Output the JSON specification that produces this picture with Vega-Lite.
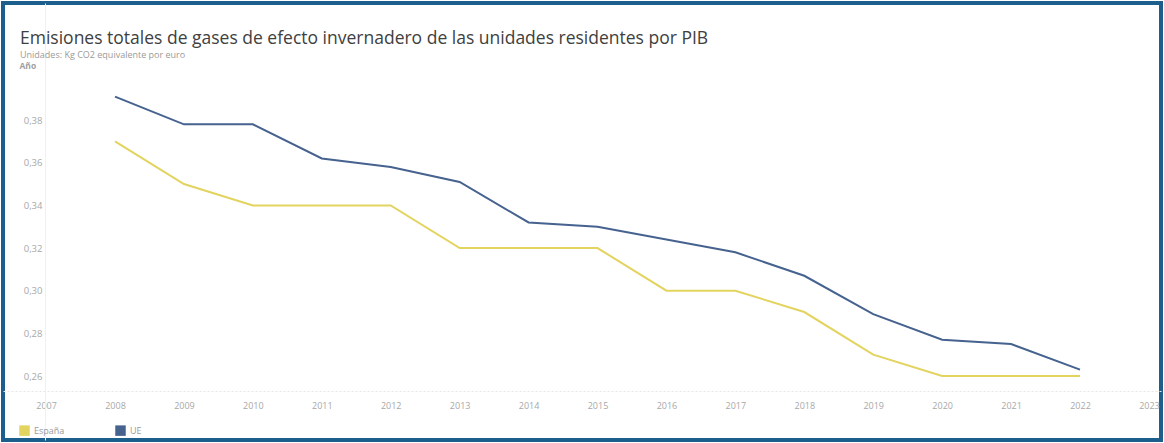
{
  "$schema": "https://vega.github.io/schema/vega-lite/v6.json",
  "width": 1158,
  "height": 437,
  "padding": 3,
  "autosize": {"type": "none"},
  "background": "#ffffff",
  "config": {
    "view": {"stroke": "#1d5f8c", "strokeWidth": 4},
    "font": "Open Sans"
  },
  "title": {
    "text": "Emisiones totales de gases de efecto invernadero de las unidades residentes por PIB",
    "subtitle": "Unidades: Kg CO2 equivalente por euro",
    "anchor": "start",
    "frame": "group",
    "orient": "top",
    "offset": -57,
    "dx": 17,
    "fontSize": 17.5,
    "fontWeight": "normal",
    "color": "#404040",
    "subtitleFontSize": 9,
    "subtitleColor": "#9a9a9a",
    "subtitlePadding": 4
  },
  "data": {
    "values": [
      {"year": 2008, "zona": "España", "valor": 0.370},
      {"year": 2009, "zona": "España", "valor": 0.350},
      {"year": 2010, "zona": "España", "valor": 0.340},
      {"year": 2011, "zona": "España", "valor": 0.340},
      {"year": 2012, "zona": "España", "valor": 0.340},
      {"year": 2013, "zona": "España", "valor": 0.320},
      {"year": 2014, "zona": "España", "valor": 0.320},
      {"year": 2015, "zona": "España", "valor": 0.320},
      {"year": 2016, "zona": "España", "valor": 0.300},
      {"year": 2017, "zona": "España", "valor": 0.300},
      {"year": 2018, "zona": "España", "valor": 0.290},
      {"year": 2019, "zona": "España", "valor": 0.270},
      {"year": 2020, "zona": "España", "valor": 0.260},
      {"year": 2021, "zona": "España", "valor": 0.260},
      {"year": 2022, "zona": "España", "valor": 0.260},
      {"year": 2008, "zona": "UE", "valor": 0.391},
      {"year": 2009, "zona": "UE", "valor": 0.378},
      {"year": 2010, "zona": "UE", "valor": 0.378},
      {"year": 2011, "zona": "UE", "valor": 0.362},
      {"year": 2012, "zona": "UE", "valor": 0.358},
      {"year": 2013, "zona": "UE", "valor": 0.351},
      {"year": 2014, "zona": "UE", "valor": 0.332},
      {"year": 2015, "zona": "UE", "valor": 0.330},
      {"year": 2016, "zona": "UE", "valor": 0.324},
      {"year": 2017, "zona": "UE", "valor": 0.318},
      {"year": 2018, "zona": "UE", "valor": 0.307},
      {"year": 2019, "zona": "UE", "valor": 0.289},
      {"year": 2020, "zona": "UE", "valor": 0.277},
      {"year": 2021, "zona": "UE", "valor": 0.275},
      {"year": 2022, "zona": "UE", "valor": 0.263}
    ]
  },
  "mark": {"type": "line", "strokeWidth": 2},
  "encoding": {
    "x": {
      "field": "year",
      "type": "quantitative",
      "scale": {"domain": [2006.375, 2023.175], "nice": false, "zero": false},
      "axis": {
        "title": null,
        "values": [2007, 2008, 2009, 2010, 2011, 2012, 2013, 2014, 2015, 2016, 2017, 2018, 2019, 2020, 2021, 2022, 2023],
        "format": "d",
        "offset": -49,
        "grid": false,
        "ticks": false,
        "domainColor": "#e6e6e6",
        "domainDash": [2, 2],
        "labelColor": "#a8a8a8",
        "labelFontSize": 9,
        "labelPadding": 10
      }
    },
    "y": {
      "field": "valor",
      "type": "quantitative",
      "scale": {"domain": [0.2300, 0.4349], "nice": false, "zero": false},
      "axis": {
        "values": [0.26, 0.28, 0.30, 0.32, 0.34, 0.36, 0.38],
        "labelExpr": "replace(format(datum.value, '.2f'), '.', ',')",
        "offset": -42,
        "grid": false,
        "ticks": false,
        "domain": true,
        "domainColor": "#f0f0f0",
        "labelColor": "#a8a8a8",
        "labelFontSize": 9.5,
        "labelPadding": 3,
        "title": "Año",
        "titleAngle": 0,
        "titleAlign": "left",
        "titleBaseline": "bottom",
        "titleX": -26,
        "titleY": 67,
        "titleFontSize": 8.5,
        "titleFontWeight": "bold",
        "titleColor": "#a0a0a0"
      }
    },
    "color": {
      "field": "zona",
      "type": "nominal",
      "scale": {"domain": ["España", "UE"], "range": ["#e3d35f", "#46628f"]},
      "legend": {
        "title": null,
        "orient": "none",
        "legendX": 16,
        "legendY": 422,
        "direction": "horizontal",
        "symbolType": "square",
        "symbolSize": 110,
        "labelColor": "#9a9a9a",
        "labelFontSize": 9,
        "labelOffset": 4,
        "columnPadding": 50,
        "encode": {
          "symbols": {
            "update": {
              "fill": {"scale": "color", "field": "value"},
              "stroke": {"scale": "color", "field": "value"},
              "strokeWidth": {"value": 0}
            }
          }
        }
      }
    }
  }
}
